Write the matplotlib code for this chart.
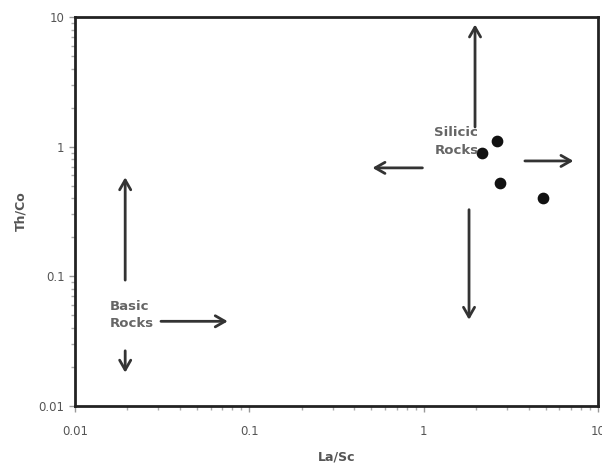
import numpy as np
import matplotlib
matplotlib.use("Agg")
import matplotlib.pyplot as plt
from matplotlib.ticker import FixedLocator, LogLocator, NullFormatter

# sample points (La/Sc, Th/Co)
la_sc = [2.64, 2.16, 2.74, 4.84]
th_co = [1.11, 0.89, 0.52, 0.40]

# field arrows: (x_start, y_start, x_end, y_end)
basic_arrows = [
    (0.0194, 0.089, 0.0194, 0.61),
    (0.0194, 0.028, 0.0194, 0.0172),
    (0.030, 0.045, 0.078, 0.045),
]
silicic_arrows = [
    (1.97, 1.35, 1.97, 9.2),
    (1.02, 0.686, 0.49, 0.686),
    (3.67, 0.776, 7.5, 0.776),
    (1.82, 0.343, 1.82, 0.044),
]

labels = ["Basic\nRocks", "Silicic\nRocks"]
label_pos = [(0.0158, 0.0505), (1.15, 1.1)]

tick_vals = [0.01, 0.1, 1, 10]
tick_labels = ["0.01", "0.1", "1", "10"]

grey = "#555555"

fig = plt.figure(figsize=(6.02, 4.69), dpi=100)
ax = fig.add_axes([0.1246, 0.1343, 0.8688, 0.8295])
ax.set_xscale("log")
ax.set_yscale("log")
ax.set_xlim(0.01, 10)
ax.set_ylim(0.01, 10)

ax.scatter(la_sc, th_co, s=55, color="#111111", zorder=3)

for x0, y0, x1, y1 in basic_arrows + silicic_arrows:
    ax.annotate("", xy=(x1, y1), xytext=(x0, y0),
                arrowprops=dict(arrowstyle="->,head_length=0.7,head_width=0.4",
                                color="#333333", lw=2))

for txt, (tx, ty) in zip(labels, label_pos):
    ax.text(tx, ty, txt, fontsize=9.5, fontweight="bold", color="#666666",
            va="center", ha="left", linespacing=1.45)

ax.xaxis.set_major_locator(FixedLocator(tick_vals))
ax.yaxis.set_major_locator(FixedLocator(tick_vals))
ax.set_xticklabels(tick_labels)
ax.set_yticklabels(tick_labels)
ax.xaxis.set_minor_locator(LogLocator(base=10, subs=np.arange(2, 10)))
ax.yaxis.set_minor_locator(LogLocator(base=10, subs=np.arange(2, 10)))
ax.xaxis.set_minor_formatter(NullFormatter())
ax.yaxis.set_minor_formatter(NullFormatter())

ax.tick_params(which="major", length=4, width=1, color="#999999",
               labelsize=8.5, labelcolor="#555555", direction="out")
ax.tick_params(which="minor", length=3, width=1, color="#aaaaaa", direction="out")
ax.tick_params(axis="x", which="major", pad=10)

for side in ["left", "bottom", "top", "right"]:
    ax.spines[side].set_linewidth(2)
    ax.spines[side].set_color("#222222")

ax.set_xlabel("La/Sc", fontsize=9, fontweight="bold", color=grey, labelpad=9)
ax.set_ylabel("Th/Co", fontsize=9, fontweight="bold", color=grey, labelpad=8)

fig.savefig("out.png", dpi=100)
